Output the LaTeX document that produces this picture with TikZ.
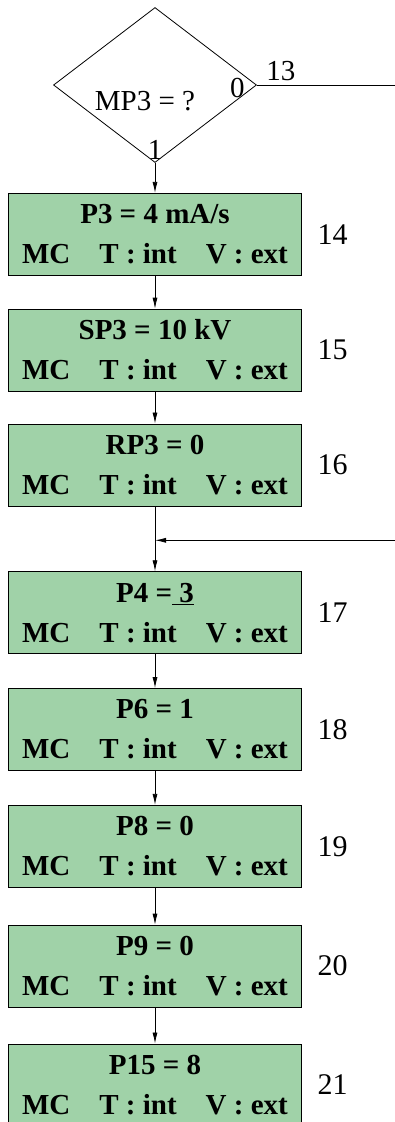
\documentclass[tikz,border=0pt]{standalone}
\usepackage{fontspec}
\setmainfont{Liberation Serif}
\usepackage{xcolor}
\usetikzlibrary{arrows.meta,positioning,shapes.geometric}

\definecolor{stepgreen}{RGB}{160,210,168}

\begin{document}
\begin{tikzpicture}[
  x=1pt, y=-1pt,
  node distance=34pt and 12pt,
  line width=0.8pt,
  >={Latex[length=11pt,width=5pt]},
  decision/.style={draw, diamond, minimum width=203pt, minimum height=155pt,
                   inner sep=0pt},
  stepbox/.style={draw, fill=stepgreen, minimum width=293pt, minimum height=82pt,
                  inner sep=0pt, align=center,
                  font=\fontsize{29}{40}\selectfont\bfseries},
  stepnum/.style={font=\fontsize{30}{32}\selectfont},
  branch/.style={font=\fontsize{29}{32}\selectfont, inner sep=0pt}
]
\useasboundingbox (0,0) rectangle (395,1122);

\node[decision] (mp3) at (155,85) {};
\node[branch] (mp3txt) at ([xshift=-10pt,yshift=-16pt]mp3.center) {MP3 = ?};
\node[branch, anchor=east] (no)  at ([xshift=-12pt,yshift=-3pt]mp3.east) {0};
\node[branch, anchor=south] (yes) at ([yshift=3pt]mp3.south) {1};
\coordinate (exitend) at (395,0 |- mp3.east);
\node[branch, anchor=south west] (exitnum) at ([xshift=9pt,yshift=4pt]mp3.east) {13};

\node[stepbox, below=30pt of mp3]   (box1) {P3 = 4 mA/s\\MC\quad T : int\quad V : ext};
\node[stepbox, below=33pt of box1]  (box2) {SP3 = 10 kV\\MC\quad T : int\quad V : ext};
\node[stepbox, below=32pt of box2]  (box3) {RP3 = 0\\MC\quad T : int\quad V : ext};
\node[stepbox, below=65pt of box3]  (box4) {P4 =\underline{\ 3}\\MC\quad T : int\quad V : ext};
\node[stepbox, below=of box4]       (box5) {P6 = 1\\MC\quad T : int\quad V : ext};
\node[stepbox, below=of box5]       (box6) {P8 = 0\\MC\quad T : int\quad V : ext};
\node[stepbox, below=37pt of box6]  (box7) {P9 = 0\\MC\quad T : int\quad V : ext};
\node[stepbox, below=36pt of box7]  (box8) {P15 = 8\\MC\quad T : int\quad V : ext};

\node[stepnum, right=of box1] (n14) {14};
\node[stepnum, right=of box2] (n15) {15};
\node[stepnum, right=of box3] (n16) {16};
\node[stepnum, right=of box4] (n17) {17};
\node[stepnum, right=of box5] (n18) {18};
\node[stepnum, right=of box6] (n19) {19};
\node[stepnum, right=of box7] (n20) {20};
\node[stepnum, right=of box8] (n21) {21};

% junction where the loop comes back
\coordinate[below=34pt of box3.south] (join);
\coordinate (retend) at (exitend |- join);

\draw (mp3.east) -- (exitend);
\draw[->] (mp3) -- (box1);
\draw[->] (box1) -- (box2);
\draw[->] (box2) -- (box3);
\draw (box3) -- (join);
\draw[->] (retend) -- (join);
\draw[->] (join) -- (box4);
\draw[->] (box4) -- (box5);
\draw[->] (box5) -- (box6);
\draw[->] (box6) -- (box7);
\draw[->] (box7) -- (box8);
\end{tikzpicture}
\end{document}
